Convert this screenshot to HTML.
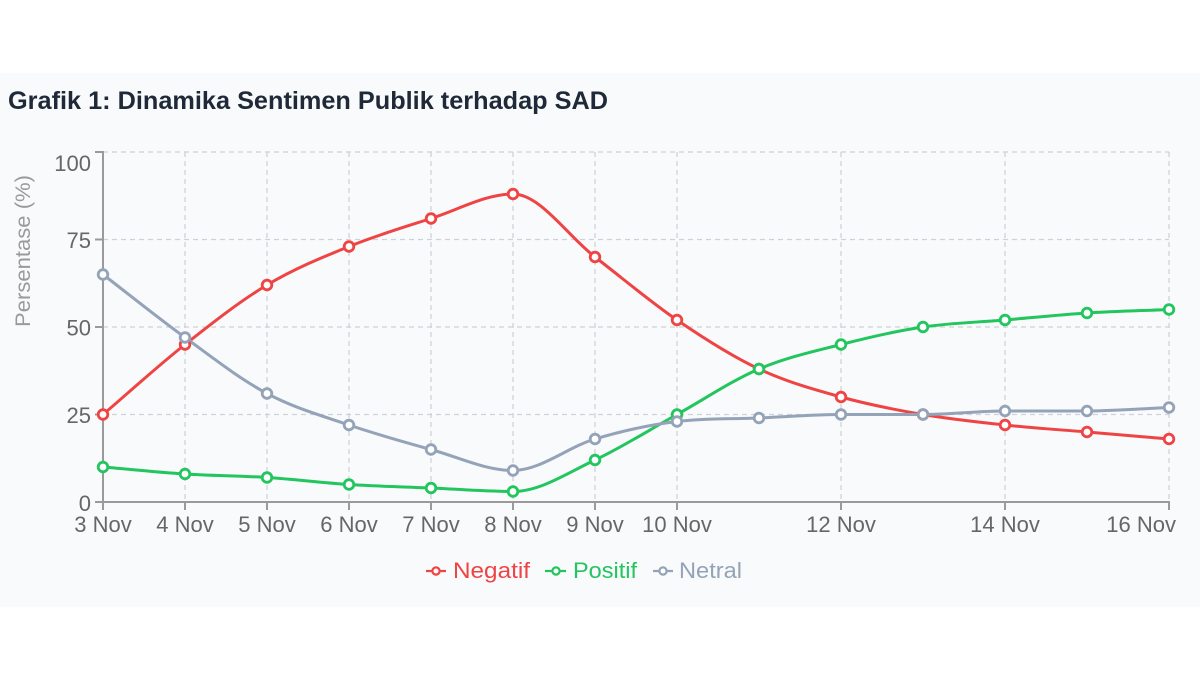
<!DOCTYPE html>
<html>
<head>
<meta charset="utf-8">
<style>
  html,body{margin:0;padding:0;background:#ffffff;}
  body{width:1200px;height:675px;overflow:hidden;position:relative;}
  .card{position:absolute;left:0;top:73px;width:1200px;height:534px;background:#f8fafc;}
  svg{position:absolute;left:0;top:0;}
  text{font-family:"Liberation Sans", Arial, sans-serif;}
</style>
</head>
<body>
<div class="card"></div>
<svg width="1200" height="675" viewBox="0 0 1200 675" xmlns="http://www.w3.org/2000/svg">
  <!-- Title -->
  <text x="8" y="109" font-size="25" font-weight="bold" fill="#1f2937" textLength="600" lengthAdjust="spacingAndGlyphs">Grafik 1: Dinamika Sentimen Publik terhadap SAD</text>

  <!-- Grid lines -->
  <g stroke="#cfd2d6" stroke-width="1.3" stroke-dasharray="5,4" fill="none">
    <line x1="103" y1="152" x2="1169" y2="152"/>
    <line x1="103" y1="239.5" x2="1169" y2="239.5"/>
    <line x1="103" y1="327" x2="1169" y2="327"/>
    <line x1="103" y1="414.5" x2="1169" y2="414.5"/>
    <line x1="185" y1="152" x2="185" y2="502"/>
    <line x1="267" y1="152" x2="267" y2="502"/>
    <line x1="349" y1="152" x2="349" y2="502"/>
    <line x1="431" y1="152" x2="431" y2="502"/>
    <line x1="513" y1="152" x2="513" y2="502"/>
    <line x1="595" y1="152" x2="595" y2="502"/>
    <line x1="677" y1="152" x2="677" y2="502"/>
    <line x1="841" y1="152" x2="841" y2="502"/>
    <line x1="1005" y1="152" x2="1005" y2="502"/>
    <line x1="1169" y1="152" x2="1169" y2="502"/>
  </g>

  <!-- Axes -->
  <g stroke="#9a9a9a" stroke-width="2" fill="none">
    <line x1="103" y1="151" x2="103" y2="503"/>
    <line x1="102" y1="502" x2="1170" y2="502"/>
    <line x1="95" y1="152" x2="103" y2="152"/>
    <line x1="95" y1="239.5" x2="103" y2="239.5"/>
    <line x1="95" y1="327" x2="103" y2="327"/>
    <line x1="95" y1="414.5" x2="103" y2="414.5"/>
    <line x1="95" y1="502" x2="103" y2="502"/>
    <line x1="103" y1="502" x2="103" y2="510"/>
    <line x1="185" y1="502" x2="185" y2="510"/>
    <line x1="267" y1="502" x2="267" y2="510"/>
    <line x1="349" y1="502" x2="349" y2="510"/>
    <line x1="431" y1="502" x2="431" y2="510"/>
    <line x1="513" y1="502" x2="513" y2="510"/>
    <line x1="595" y1="502" x2="595" y2="510"/>
    <line x1="677" y1="502" x2="677" y2="510"/>
    <line x1="841" y1="502" x2="841" y2="510"/>
    <line x1="1005" y1="502" x2="1005" y2="510"/>
    <line x1="1169" y1="502" x2="1169" y2="510"/>
  </g>

  <!-- Y labels -->
  <g font-size="22" fill="#666666" text-anchor="end">
    <text x="91" y="171">100</text>
    <text x="91" y="248">75</text>
    <text x="91" y="335.5">50</text>
    <text x="91" y="423">25</text>
    <text x="91" y="511">0</text>
  </g>

  <!-- Y axis title -->
  <text transform="translate(30,251) rotate(-90)" font-size="21" fill="#9a9a9a" text-anchor="middle" textLength="152" lengthAdjust="spacingAndGlyphs">Persentase (%)</text>

  <!-- X labels -->
  <g font-size="22" fill="#666666" text-anchor="middle">
    <text x="103" y="532">3 Nov</text>
    <text x="185" y="532">4 Nov</text>
    <text x="267" y="532">5 Nov</text>
    <text x="349" y="532">6 Nov</text>
    <text x="431" y="532">7 Nov</text>
    <text x="513" y="532">8 Nov</text>
    <text x="595" y="532">9 Nov</text>
    <text x="677" y="532">10 Nov</text>
    <text x="841" y="532">12 Nov</text>
    <text x="1005" y="532">14 Nov</text>
    <text x="1176" y="532" text-anchor="end">16 Nov</text>
  </g>

  <!-- Lines (monotone cubic) -->
  <g fill="none" stroke-width="3" stroke-linejoin="round" stroke-linecap="round">
    <path stroke="#ef4444" d="M103,414.5 C130.33,391.17 157.67,366.08 185,344.5 C212.33,322.92 239.67,301.33 267,285 C294.33,268.67 321.67,257.58 349,246.5 C376.33,235.42 403.67,227.25 431,218.5 C458.33,209.75 485.67,194 513,194 C540.33,194 567.67,236 595,257 C622.33,278 649.67,301.33 677,320 C704.33,338.67 731.67,356.17 759,369 C786.33,381.83 813.67,389.42 841,397 C868.33,404.58 895.67,409.83 923,414.5 C950.33,419.17 977.67,422.08 1005,425 C1032.33,427.92 1059.67,429.67 1087,432 C1114.33,434.33 1141.67,436.67 1169,439"/>
    <path stroke="#22c55e" d="M103,467 C130.33,469.33 157.67,472.25 185,474 C212.33,475.75 239.67,475.75 267,477.5 C294.33,479.25 321.67,482.75 349,484.5 C376.33,486.25 403.67,486.83 431,488 C458.33,489.17 485.67,491.5 513,491.5 C540.33,491.5 567.67,472.83 595,460 C622.33,447.17 649.67,429.67 677,414.5 C704.33,399.33 731.67,380.67 759,369 C786.33,357.33 813.67,351.5 841,344.5 C868.33,337.5 895.67,331.08 923,327 C950.33,322.92 977.67,322.33 1005,320 C1032.33,317.67 1059.67,314.75 1087,313 C1114.33,311.25 1141.67,310.67 1169,309.5"/>
    <path stroke="#94a3b8" d="M103,274.5 C130.33,295.5 157.67,317.67 185,337.5 C212.33,357.33 239.67,378.92 267,393.5 C294.33,408.08 321.67,415.67 349,425 C376.33,434.33 403.67,441.92 431,449.5 C458.33,457.08 485.67,470.5 513,470.5 C540.33,470.5 567.67,447.17 595,439 C622.33,430.83 649.67,424.82 677,421.5 C704.33,418.18 731.67,419.11 759,418 C786.33,416.89 813.67,414.5 841,414.5 C868.33,414.5 895.67,414.5 923,414.5 C950.33,414.5 977.67,411 1005,411 C1032.33,411 1059.67,411 1087,411 C1114.33,411 1141.67,408.67 1169,407.5"/>
  </g>

  <!-- Points -->
  <g fill="#ffffff" stroke="#ef4444" stroke-width="2.8">
    <circle cx="103" cy="414.5" r="4.8"/><circle cx="185" cy="344.5" r="4.8"/><circle cx="267" cy="285" r="4.8"/><circle cx="349" cy="246.5" r="4.8"/><circle cx="431" cy="218.5" r="4.8"/><circle cx="513" cy="194" r="4.8"/><circle cx="595" cy="257" r="4.8"/><circle cx="677" cy="320" r="4.8"/><circle cx="759" cy="369" r="4.8"/><circle cx="841" cy="397" r="4.8"/><circle cx="923" cy="414.5" r="4.8"/><circle cx="1005" cy="425" r="4.8"/><circle cx="1087" cy="432" r="4.8"/><circle cx="1169" cy="439" r="4.8"/>
  </g>
  <g fill="#ffffff" stroke="#22c55e" stroke-width="2.8">
    <circle cx="103" cy="467" r="4.8"/><circle cx="185" cy="474" r="4.8"/><circle cx="267" cy="477.5" r="4.8"/><circle cx="349" cy="484.5" r="4.8"/><circle cx="431" cy="488" r="4.8"/><circle cx="513" cy="491.5" r="4.8"/><circle cx="595" cy="460" r="4.8"/><circle cx="677" cy="414.5" r="4.8"/><circle cx="759" cy="369" r="4.8"/><circle cx="841" cy="344.5" r="4.8"/><circle cx="923" cy="327" r="4.8"/><circle cx="1005" cy="320" r="4.8"/><circle cx="1087" cy="313" r="4.8"/><circle cx="1169" cy="309.5" r="4.8"/>
  </g>
  <g fill="#ffffff" stroke="#94a3b8" stroke-width="2.8">
    <circle cx="103" cy="274.5" r="4.8"/><circle cx="185" cy="337.5" r="4.8"/><circle cx="267" cy="393.5" r="4.8"/><circle cx="349" cy="425" r="4.8"/><circle cx="431" cy="449.5" r="4.8"/><circle cx="513" cy="470.5" r="4.8"/><circle cx="595" cy="439" r="4.8"/><circle cx="677" cy="421.5" r="4.8"/><circle cx="759" cy="418" r="4.8"/><circle cx="841" cy="414.5" r="4.8"/><circle cx="923" cy="414.5" r="4.8"/><circle cx="1005" cy="411" r="4.8"/><circle cx="1087" cy="411" r="4.8"/><circle cx="1169" cy="407.5" r="4.8"/>
  </g>

  <!-- Legend -->
  <g stroke-width="2.2" fill="#ffffff">
    <line x1="426" y1="571" x2="446" y2="571" stroke="#ef4444"/>
    <circle cx="436" cy="571" r="3.6" stroke="#ef4444"/>
    <line x1="545" y1="571" x2="566" y2="571" stroke="#22c55e"/>
    <circle cx="556" cy="571" r="3.6" stroke="#22c55e"/>
    <line x1="653" y1="571" x2="673" y2="571" stroke="#94a3b8"/>
    <circle cx="663" cy="571" r="3.6" stroke="#94a3b8"/>
  </g>
  <g font-size="22">
    <text x="453" y="578" fill="#ef4444" textLength="77" lengthAdjust="spacingAndGlyphs">Negatif</text>
    <text x="573" y="578" fill="#22c55e" textLength="64" lengthAdjust="spacingAndGlyphs">Positif</text>
    <text x="679" y="578" fill="#94a3b8" textLength="63" lengthAdjust="spacingAndGlyphs">Netral</text>
  </g>
</svg>
</body>
</html>
